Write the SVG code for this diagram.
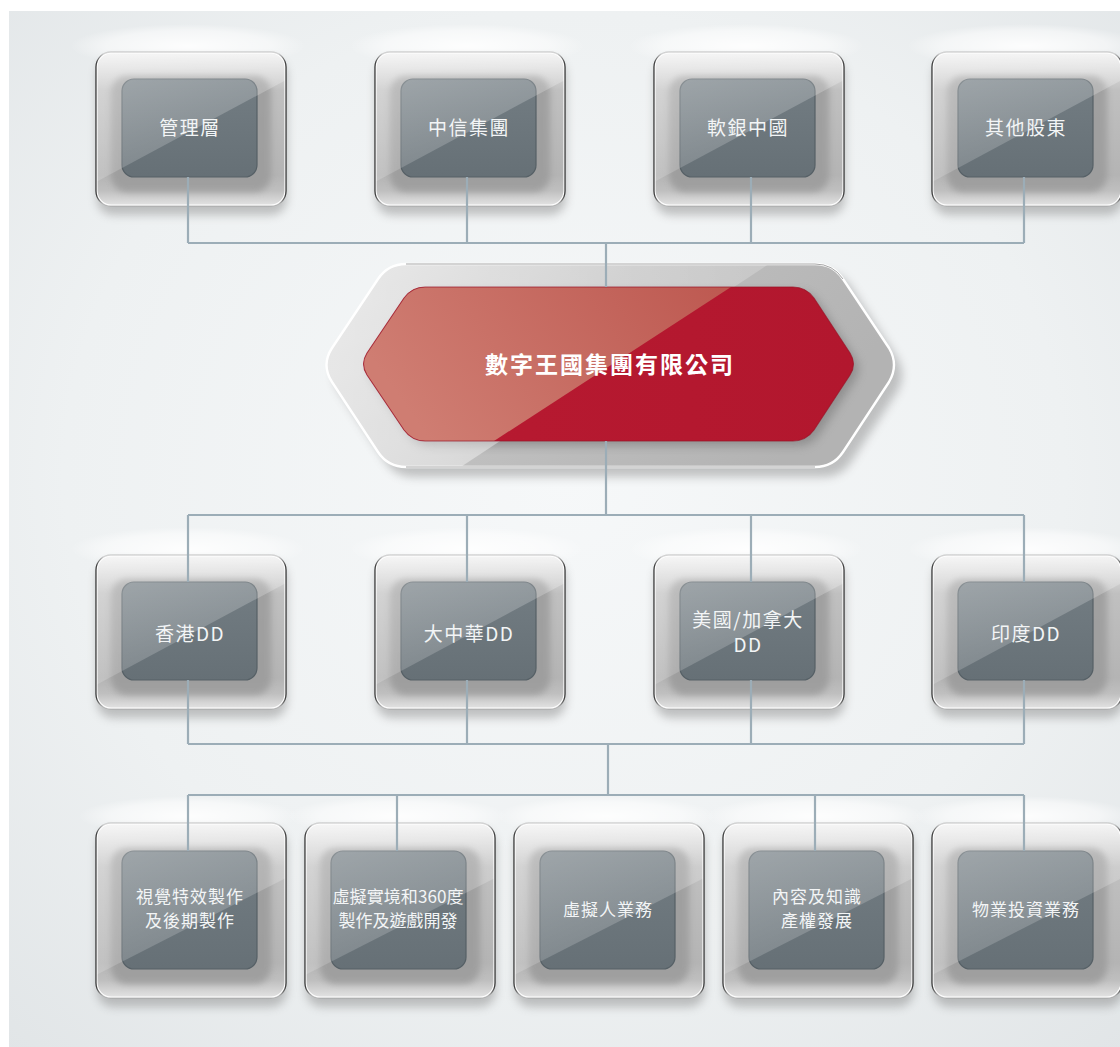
<svg xmlns="http://www.w3.org/2000/svg" xmlns:xlink="http://www.w3.org/1999/xlink" width="1120" height="1047" viewBox="0 0 1120 1047">
<style>
.lbl{font-family:"Noto Sans CJK TC","Noto Sans",sans-serif;fill:#f3f5f6;text-anchor:middle;}
.l19{font-size:19px;letter-spacing:1.5px;}
.l17{font-size:17px;letter-spacing:1px;}
.title{font-family:"Noto Sans CJK TC","Noto Sans",sans-serif;font-size:23px;font-weight:bold;letter-spacing:2px;fill:#ffffff;text-anchor:middle;}
.conn{fill:none;stroke:#9cadb7;stroke-width:2.2;}
</style>
<defs>
<radialGradient id="bgG" cx="0.5" cy="0.45" r="0.75">
<stop offset="0" stop-color="#f6f8f9"/>
<stop offset="0.6" stop-color="#eef1f2"/>
<stop offset="1" stop-color="#e1e5e7"/>
</radialGradient>
<radialGradient id="glowG" cx="0.5" cy="0.5" r="0.5">
<stop offset="0" stop-color="#ffffff" stop-opacity="0.9"/>
<stop offset="0.7" stop-color="#ffffff" stop-opacity="0.5"/>
<stop offset="1" stop-color="#ffffff" stop-opacity="0"/>
</radialGradient>
<linearGradient id="frameG" x1="0" y1="0" x2="0" y2="1">
<stop offset="0" stop-color="#f2f2f2"/>
<stop offset="0.12" stop-color="#dadada"/>
<stop offset="0.25" stop-color="#c0c0c0"/>
<stop offset="0.8" stop-color="#b4b4b4"/>
<stop offset="0.9" stop-color="#bfbfbf"/>
<stop offset="1" stop-color="#e4e4e4"/>
</linearGradient>
<linearGradient id="edgeG" x1="0" y1="0" x2="1" y2="0">
<stop offset="0" stop-color="#1e1e1e" stop-opacity="0.9"/>
<stop offset="0.04" stop-color="#8a8a8a" stop-opacity="0.35"/>
<stop offset="0.96" stop-color="#8a8a8a" stop-opacity="0.35"/>
<stop offset="1" stop-color="#1e1e1e" stop-opacity="0.9"/>
</linearGradient>
<linearGradient id="boxG" x1="0" y1="0" x2="0" y2="1">
<stop offset="0" stop-color="#737d83"/>
<stop offset="1" stop-color="#667076"/>
</linearGradient>
<linearGradient id="glassG" x1="0" y1="0" x2="0.5" y2="1">
<stop offset="0" stop-color="#ffffff" stop-opacity="0.36"/>
<stop offset="1" stop-color="#ffffff" stop-opacity="0.12"/>
</linearGradient>
<linearGradient id="hexFrameG" x1="0" y1="0" x2="1" y2="0.3">
<stop offset="0" stop-color="#d6d6d6"/>
<stop offset="0.5" stop-color="#bfbfbf"/>
<stop offset="1" stop-color="#b3b3b3"/>
</linearGradient>
<linearGradient id="redG" x1="0" y1="0" x2="1" y2="0">
<stop offset="0" stop-color="#b81a31"/>
<stop offset="1" stop-color="#b2172e"/>
</linearGradient>
<linearGradient id="redGlassG" x1="0" y1="0.3" x2="1" y2="0">
<stop offset="0" stop-color="#cf7d72"/>
<stop offset="1" stop-color="#bd5850"/>
</linearGradient>
<linearGradient id="hexGlassG" x1="0" y1="0" x2="1" y2="0">
<stop offset="0" stop-color="#ffffff" stop-opacity="0.85"/>
<stop offset="1" stop-color="#ffffff" stop-opacity="0.3"/>
</linearGradient>
<filter id="blur5" x="-20%" y="-20%" width="140%" height="140%"><feGaussianBlur stdDeviation="5"/></filter>
<filter id="blur3" x="-20%" y="-20%" width="140%" height="140%"><feGaussianBlur stdDeviation="3"/></filter>
<clipPath id="clipA"><rect x="0" y="0" width="190" height="154" rx="15"/></clipPath>
<clipPath id="clipB"><rect x="0" y="0" width="190" height="175" rx="15"/></clipPath>
<clipPath id="clipHex"><path d="M332 348 L378 279 Q388 264 406 264 L815 264 Q833 264 843 279 L889 348 Q899 365 889 382 L843 452 Q833 467 815 467 L406 467 Q388 467 378 452 L332 382 Q321 365 332 348 Z"/></clipPath>
<clipPath id="clipRed"><path d="M367 353 L404 298 Q412 287 425 287 L793 287 Q806 287 814 298 L850 353 Q857 364 850 375 L814 430 Q806 441 793 441 L425 441 Q412 441 404 430 L367 375 Q360 364 367 353 Z"/></clipPath>
<g id="nodeA">
<rect x="1" y="7" width="190" height="156" rx="16" fill="#808080" opacity="0.45" filter="url(#blur5)"/>
<rect x="0" y="0" width="190" height="154" rx="15" fill="url(#frameG)"/>
<rect x="15" y="24" width="160" height="116" rx="16" fill="#999999" opacity="0.8" filter="url(#blur3)"/>
<rect x="26" y="27" width="135" height="98" rx="12" fill="url(#boxG)" stroke="#566066" stroke-width="1.2"/>
<polygon points="0,0 190,0 190,28 0,130" fill="url(#glassG)" clip-path="url(#clipA)"/>
<rect x="0.8" y="0.8" width="188.4" height="152.4" rx="14.5" fill="none" stroke="#ffffff" stroke-width="1.6"/>
<rect x="0" y="0" width="190" height="154" rx="15" fill="none" stroke="url(#edgeG)" stroke-width="1.3"/>
</g>
<g id="nodeB">
<rect x="1" y="7" width="190" height="177" rx="16" fill="#808080" opacity="0.45" filter="url(#blur5)"/>
<rect x="0" y="0" width="190" height="175" rx="15" fill="url(#frameG)"/>
<rect x="15" y="25" width="160" height="136" rx="16" fill="#999999" opacity="0.8" filter="url(#blur3)"/>
<rect x="26" y="28" width="135" height="118" rx="12" fill="url(#boxG)" stroke="#566066" stroke-width="1.2"/>
<polygon points="0,0 190,0 190,55 0,152" fill="url(#glassG)" clip-path="url(#clipB)"/>
<rect x="0.8" y="0.8" width="188.4" height="173.4" rx="14.5" fill="none" stroke="#ffffff" stroke-width="1.6"/>
<rect x="0" y="0" width="190" height="175" rx="15" fill="none" stroke="url(#edgeG)" stroke-width="1.3"/>
</g>
</defs>

<rect x="0" y="0" width="1120" height="1047" fill="#ffffff"/>
<rect x="9" y="11" width="1111" height="1036" fill="url(#bgG)"/>

<g id="glows">
<ellipse cx="188" cy="46" rx="118" ry="22" fill="url(#glowG)"/>
<ellipse cx="467" cy="46" rx="118" ry="22" fill="url(#glowG)"/>
<ellipse cx="746" cy="46" rx="118" ry="22" fill="url(#glowG)"/>
<ellipse cx="1025" cy="46" rx="118" ry="22" fill="url(#glowG)"/>
<ellipse cx="188" cy="549" rx="118" ry="22" fill="url(#glowG)"/>
<ellipse cx="467" cy="549" rx="118" ry="22" fill="url(#glowG)"/>
<ellipse cx="746" cy="549" rx="118" ry="22" fill="url(#glowG)"/>
<ellipse cx="1025" cy="549" rx="118" ry="22" fill="url(#glowG)"/>
<ellipse cx="188" cy="816" rx="110" ry="20" fill="url(#glowG)"/>
<ellipse cx="397" cy="816" rx="110" ry="20" fill="url(#glowG)"/>
<ellipse cx="606" cy="816" rx="110" ry="20" fill="url(#glowG)"/>
<ellipse cx="815" cy="816" rx="110" ry="20" fill="url(#glowG)"/>
<ellipse cx="1024" cy="816" rx="110" ry="20" fill="url(#glowG)"/>
</g>

<g id="node-mgmt"><use href="#nodeA" x="96" y="52"/><text class="lbl l19" x="190" y="135">管理層</text></g>
<g id="node-citic"><use href="#nodeA" x="375" y="52"/><text class="lbl l19" x="469" y="135">中信集團</text></g>
<g id="node-softbank"><use href="#nodeA" x="654" y="52"/><text class="lbl l19" x="748" y="135">軟銀中國</text></g>
<g id="node-others"><use href="#nodeA" x="932" y="52"/><text class="lbl l19" x="1026" y="135">其他股東</text></g>

<g id="node-dd">
<path d="M340 358 L386 287 Q396 272 414 272 L823 272 Q841 272 851 287 L897 358 Q907 375 897 392 L851 462 Q841 477 823 477 L414 477 Q396 477 386 462 L340 392 Q329 375 340 358 Z" fill="#808080" opacity="0.45" filter="url(#blur5)"/>
<path d="M332 348 L378 279 Q388 264 406 264 L815 264 Q833 264 843 279 L889 348 Q899 365 889 382 L843 452 Q833 467 815 467 L406 467 Q388 467 378 452 L332 382 Q321 365 332 348 Z" fill="url(#hexFrameG)"/>
<path d="M372 358 L409 303 Q417 292 430 292 L798 292 Q811 292 819 303 L855 358 Q862 369 855 380 L819 435 Q811 446 798 446 L430 446 Q417 446 409 435 L372 380 Q365 369 372 358 Z" fill="#8a8a8a" opacity="0.85" filter="url(#blur5)"/>
<polygon points="310,250 790,250 441,480 310,480" fill="url(#hexGlassG)" opacity="0.6" clip-path="url(#clipHex)"/>
<path d="M367 353 L404 298 Q412 287 425 287 L793 287 Q806 287 814 298 L850 353 Q857 364 850 375 L814 430 Q806 441 793 441 L425 441 Q412 441 404 430 L367 375 Q360 364 367 353 Z" fill="url(#redG)"/>
<polygon points="350,280 731,280 731,287 494,441 350,441" fill="url(#redGlassG)" clip-path="url(#clipRed)"/>
<path d="M367 353 L404 298 Q412 287 425 287 L793 287 Q806 287 814 298 L850 353 Q857 364 850 375 L814 430 Q806 441 793 441 L425 441 Q412 441 404 430 L367 375 Q360 364 367 353 Z" fill="none" stroke="#9b1327" stroke-width="1.1" opacity="0.7"/>
<path d="M332 348 L378 279 Q388 264 406 264 L815 264 Q833 264 843 279 L889 348 Q899 365 889 382 L843 452 Q833 467 815 467 L406 467 Q388 467 378 452 L332 382 Q321 365 332 348 Z" fill="none" stroke="#ffffff" stroke-width="2.4"/>
<path d="M406 264 L815 264 Q833 264 843 279 M815 467 L406 467" fill="none" stroke="#4a4a4a" stroke-width="0.9" opacity="0.55"/>
<text class="title" x="610" y="373">數字王國集團有限公司</text>
</g>

<g id="node-hk"><use href="#nodeA" x="96" y="555"/><text class="lbl l19" x="190" y="641">香港DD</text></g>
<g id="node-gc"><use href="#nodeA" x="375" y="555"/><text class="lbl l19" x="469" y="641">大中華DD</text></g>
<g id="node-us"><use href="#nodeA" x="654" y="555"/><text class="lbl l19" x="748" y="627">美國/加拿大</text><text class="lbl l19" x="748" y="652">DD</text></g>
<g id="node-in"><use href="#nodeA" x="932" y="555"/><text class="lbl l19" x="1026" y="641">印度DD</text></g>

<g id="node-vfx"><use href="#nodeB" x="96" y="823"/><text class="lbl l17" x="190" y="903">視覺特效製作</text><text class="lbl l17" x="190" y="927">及後期製作</text></g>
<g id="node-vr"><use href="#nodeB" x="305" y="823"/><text class="lbl" style="font-size:17px" x="398" y="903" textLength="131" lengthAdjust="spacingAndGlyphs">虛擬實境和360度</text><text class="lbl" style="font-size:17px" x="398" y="927">製作及遊戲開發</text></g>
<g id="node-vh"><use href="#nodeB" x="514" y="823"/><text class="lbl l17" x="608" y="916">虛擬人業務</text></g>
<g id="node-ip"><use href="#nodeB" x="723" y="823"/><text class="lbl l17" x="817" y="903">內容及知識</text><text class="lbl l17" x="817" y="927">產權發展</text></g>
<g id="node-prop"><use href="#nodeB" x="932" y="823"/><text class="lbl l17" x="1026" y="916">物業投資業務</text></g>

<g id="connectors" class="conn">
<path d="M188 177 V243 M467 177 V243 M751 177 V243 M1024 177 V243 M188 243 H1024 M606 243 V287"/>
<path d="M606 441 V515 M188 515 H1024 M188 515 V582 M467 515 V582 M751 515 V582 M1024 515 V582"/>
<path d="M188 680 V744 M467 680 V744 M751 680 V744 M1024 680 V744 M188 744 H1024 M608 744 V795"/>
<path d="M188 795 H1024 M188 795 V851 M397 795 V851 M815 795 V851 M1024 795 V851"/>
</g>
</svg>
